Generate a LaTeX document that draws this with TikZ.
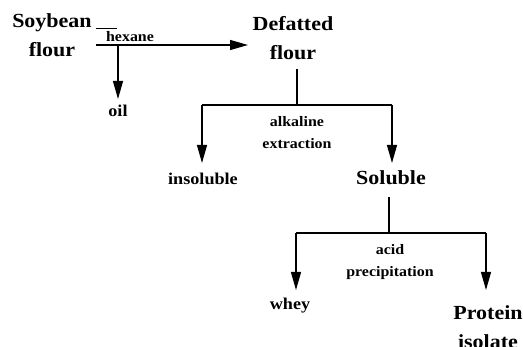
\documentclass[tikz,border=0pt]{standalone}
\usepackage{fontspec}
\setmainfont[FakeStretch=1.1]{Liberation Serif}
\usetikzlibrary{arrows.meta}
\begin{document}
\begin{tikzpicture}[x=1pt,y=-1pt,
  main/.style={inner sep=0pt,anchor=base,font=\fontsize{20}{29}\selectfont\bfseries,align=center},
  prod/.style={inner sep=0pt,anchor=base,font=\fontsize{16.5}{20}\selectfont\bfseries},
  lab/.style={inner sep=0pt,anchor=base,font=\fontsize{14.5}{22}\selectfont\bfseries,align=center},
  line/.style={line width=1.2pt,draw=black},
  arr/.style={line,-{Triangle[length=18pt,width=10pt]}}]
\useasboundingbox (0,0) rectangle (523,347);
% main nodes
\node[main] (soy) at (52,57) {Soybean\\flour};
\node[main] (def) at (293,60) {Defatted\\flour};
\node[main] (sol) at (391,185) {Soluble};
\node[main] (prot) at (488,349) {Protein\\isolate};
% products
\node[prod] (oil) at (118,117) {oil};
\node[prod] (insol) at (203,185) {insoluble};
\node[prod] (whey) at (290,310) {whey};
% labels
\node[lab] (hex) at (130,42) {hexane};
\node[lab] (alk) at (297,149) {alkaline\\extraction};
\node[lab] (acid) at (390,277) {acid\\precipitation};
% coordinates
\coordinate (u0) at (96,28);
\coordinate (u1) at (117,28);
\coordinate (h0) at (96,45);
\coordinate (h1) at (248,45);
\coordinate (o0) at (118,45);
\coordinate (o1) at (118,99);
\coordinate (d0) at (297,69);
\coordinate (d1) at (297,105);
\coordinate (dl) at (202,105);
\coordinate (dr) at (392,105);
\coordinate (dlt) at (202,163);
\coordinate (drt) at (392,163);
\coordinate (s0) at (389,197);
\coordinate (s1) at (389,233);
\coordinate (sl) at (296,233);
\coordinate (sr) at (486,233);
\coordinate (slt) at (296,290);
\coordinate (srt) at (486,290);
% connectors
\draw[line,line width=0.6pt] (u0) -- (u1);
\draw[arr] (h0) -- (h1);
\draw[arr] (o0) -- (o1);
\draw[line] (d0) -- (d1);
\draw[line] (dl) -- (dr);
\draw[arr] (dl) -- (dlt);
\draw[arr] (dr) -- (drt);
\draw[line] (s0) -- (s1);
\draw[line] (sl) -- (sr);
\draw[arr] (sl) -- (slt);
\draw[arr] (sr) -- (srt);
\end{tikzpicture}
\end{document}
